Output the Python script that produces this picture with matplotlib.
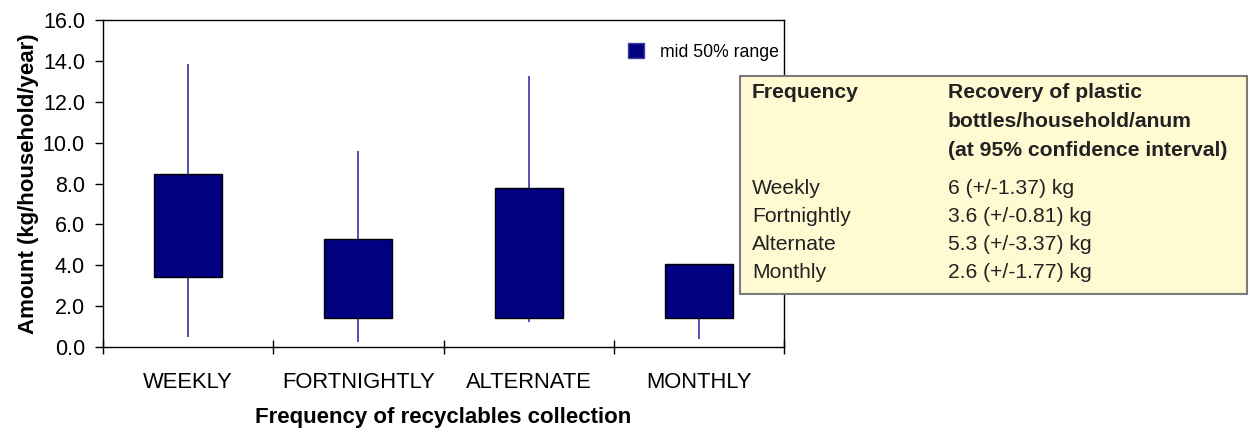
import matplotlib
matplotlib.use("Agg")
import matplotlib.pyplot as plt
from matplotlib.patches import Patch, Rectangle

plt.rcParams['font.family'] = ['Liberation Sans', 'DejaVu Sans']

categories = ["WEEKLY", "FORTNIGHTLY", "ALTERNATE", "MONTHLY"]
q1 = [3.42, 1.40, 1.40, 1.40]
q3 = [8.45, 5.27, 7.76, 4.05]
low = [0.49, 0.23, 1.24, 0.41]
high = [13.83, 9.59, 13.24, 4.05]

table_header = ["Frequency", "Recovery of plastic", "bottles/household/anum",
                "(at 95% confidence interval)"]
table_freq = ["Weekly", "Fortnightly", "Alternate", "Monthly"]
table_recovery = ["6 (+/-1.37) kg", "3.6 (+/-0.81) kg", "5.3 (+/-3.37) kg", "2.6 (+/-1.77) kg"]

W, H = 1250, 429
fig = plt.figure(figsize=(W / 100, H / 100), dpi=100)

def fx(px):
    return px / W

def fy(py):
    return 1 - py / H

ax = fig.add_axes([fx(103), fy(347), fx(784) - fx(103), fy(20) - fy(347)])

x = [i + 0.5 for i in range(len(categories))]
ax.vlines(x, low, high, color="#2222aa", lw=1.1, zorder=2)
heights = [b - a for a, b in zip(q1, q3)]
ax.bar(x, heights, bottom=q1, width=0.4, color="#000080", edgecolor="black",
       linewidth=1, zorder=3)

ax.set_xlim(0, 4)
ax.set_ylim(0, 16)
ax.set_yticks([i * 2.0 for i in range(9)])
ax.set_yticklabels([f"{i * 2.0:.1f}" for i in range(9)])
ax.set_xticks(range(5))
ax.set_xticklabels([])
ax.set_xticks(x, minor=True)
ax.set_xticklabels(categories, minor=True)
ax.tick_params(axis="x", which="major", direction="inout", length=10, width=1)
ax.tick_params(axis="x", which="minor", length=0, pad=18, labelsize=15.8)
ax.tick_params(axis="y", direction="out", length=6, width=1, pad=7, labelsize=15.5)
for s in ax.spines.values():
    s.set_linewidth(1)

ax.set_ylabel("Amount (kg/household/year)", fontsize=16, fontweight="bold", labelpad=3)
ax.set_xlabel("Frequency of recyclables collection", fontsize=16, fontweight="bold",
              labelpad=10)

ax.legend(handles=[Patch(facecolor="#000080", edgecolor="#4040a0", label="mid 50% range")],
          loc="center right", bbox_to_anchor=(0.993, 0.902), frameon=False,
          fontsize=12.7, handlelength=0.95, handleheight=0.95, handletextpad=0.9,
          borderpad=0, borderaxespad=0)

# info box
fig.add_artist(Rectangle((fx(740), fy(294)), fx(1247) - fx(740), fy(76) - fy(294),
                         transform=fig.transFigure, facecolor="#FFFAD2",
                         edgecolor="#7a7a7a", linewidth=1.5, zorder=5))
fig.text(fx(752), fy(93), table_header[0], fontsize=15.2, fontweight="bold",
         va="center", ha="left", zorder=6, color="#222222")
for i, line in enumerate(table_header[1:]):
    fig.text(fx(948), fy(93 + i * 29), line, fontsize=15.2, fontweight="bold",
             va="center", ha="left", zorder=6, color="#222222")
for i, (f, r) in enumerate(zip(table_freq, table_recovery)):
    yy = fy(188 + i * 28.3)
    fig.text(fx(752), yy, f, fontsize=15.2, va="center", ha="left", zorder=6, color="#222222")
    fig.text(fx(948), yy, r, fontsize=15.2, va="center", ha="left", zorder=6, color="#222222")

fig.savefig("out.png", dpi=100)
